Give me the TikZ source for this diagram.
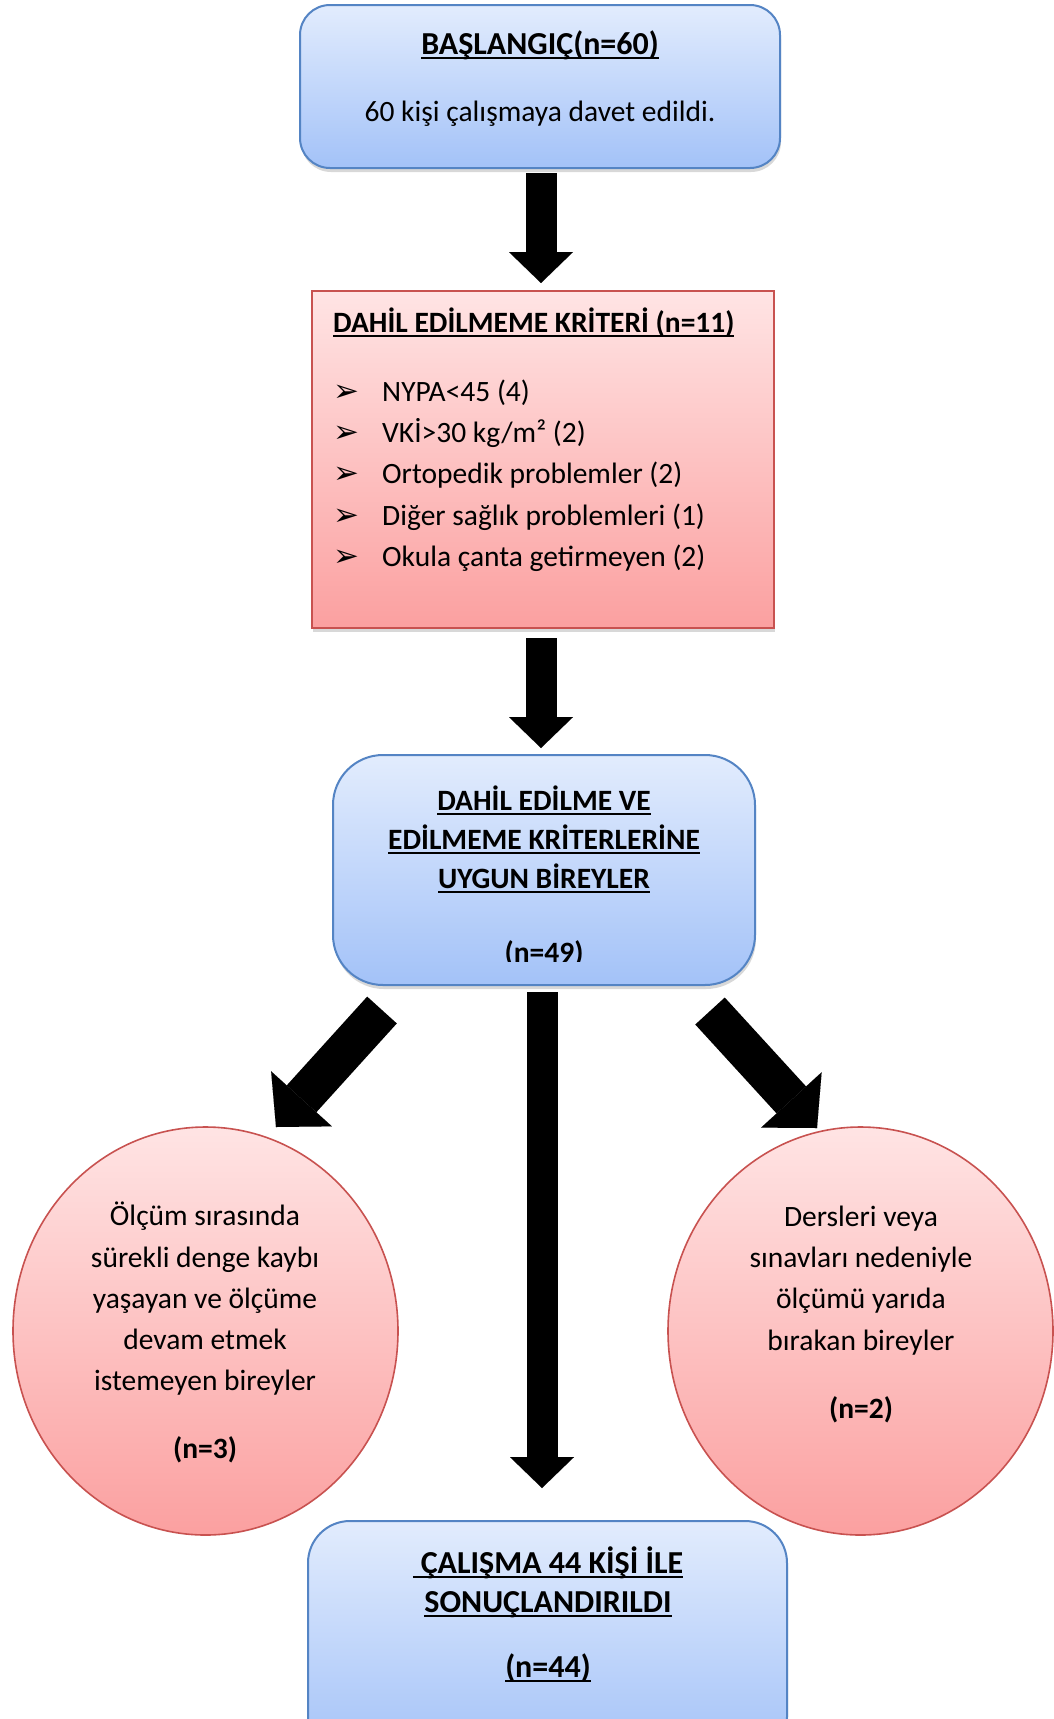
\documentclass[tikz,border=0pt]{standalone}
\usepackage{fontspec}
\setmainfont{Carlito}
\newfontfamily\symfont{DejaVu Sans}
\usetikzlibrary{arrows.meta,shapes.geometric,shadows}
\definecolor{bluetop}{RGB}{226,236,253}
\definecolor{bluebot}{RGB}{163,194,248}
\definecolor{blueline}{RGB}{84,132,196}
\definecolor{redtop}{RGB}{255,228,228}
\definecolor{redbot}{RGB}{251,160,160}
\definecolor{redline}{RGB}{200,82,80}
\newsavebox\ulbox
\newcommand\ulx[1]{\sbox\ulbox{#1}\rlap{\rule[-5pt]{\wd\ulbox}{2.4pt}}\usebox\ulbox}
\tikzset{
  txt/.style={font=\fontsize{29.5pt}{35pt}\selectfont, inner sep=0pt, anchor=base},
  btxt/.style={txt, font=\fontsize{29.5pt}{35pt}\selectfont\bfseries},
  bbtxt/.style={txt, font=\fontsize{32pt}{38pt}\selectfont\bfseries},
  bluebox/.style={draw=blueline, line width=2pt, top color=bluetop, bottom color=bluebot,
    inner sep=0pt, outer sep=0pt,
    drop shadow={opacity=0.3, shadow xshift=1pt, shadow yshift=-4pt}},
  redbox/.style={draw=redline, line width=1.6pt, top color=redtop, bottom color=redbot,
    inner sep=0pt, outer sep=0pt,
    drop shadow={opacity=0.3, shadow xshift=1pt, shadow yshift=-4pt}},
  redcirc/.style={ellipse, draw=redline, line width=1.6pt, top color=redtop, bottom color=redbot,
    inner sep=0pt, outer sep=0pt},
  varrow/.style={line width=31pt, draw=black,
    -{Triangle[width=64pt, length=31pt, line width=0.01pt]}},
  darrow/.style={line width=40pt, draw=black,
    -{Triangle[width=82pt, length=38pt, line width=0.01pt]}},
  bul/.style={font=\symfont\fontsize{31pt}{35pt}\selectfont, inner sep=0pt, anchor=base west},
}
\begin{document}
\begin{tikzpicture}[x=1pt, y=-1pt]
\useasboundingbox (0,0) rectangle (1053,1719);
\fill[white] (0,0) rectangle (1053,1719);

% boxes
\node[bluebox, rounded corners=30pt, minimum width=480pt, minimum height=163pt] (top) at (540,86.5) {};
\node[redbox, minimum width=462pt, minimum height=337pt] (red) at (543,459.5) {};
\node[bluebox, rounded corners=50pt, minimum width=422pt, minimum height=230pt] (mid) at (544,870) {};
\node[redcirc, minimum width=385pt, minimum height=408pt] (lc) at (205.5,1331) {};
\node[redcirc, minimum width=385pt, minimum height=408pt] (rc) at (860.5,1331) {};
\node[bluebox, rounded corners=42pt, minimum width=479pt, minimum height=238pt] (bot) at (547.5,1640) {};

% top texts
\node[bbtxt] (t1) at (540,54) {\ulx{BAŞLANGIÇ(n=60)}};
\node[txt] (t2) at (540,121) {60 kişi çalışmaya davet edildi.};

% red box texts
\node[btxt, anchor=base west] (r0) at (333,332) {\ulx{DAHİL EDİLMEME KRİTERİ (n=11)}};
\foreach \yy/\tt [count=\i] in {401/{NYPA<45 (4)}, 442/{VKİ>30 kg/m² (2)}, 483/{Ortopedik problemler (2)}, 525/{Diğer sağlık problemleri (1)}, 566/{Okula çanta getirmeyen (2)}}{
  \node[bul] (b\i) at (333,\yy) {➢};
  \node[txt, anchor=base west] (r\i) at (382,\yy) {\tt};
}

% middle texts
\node[btxt] (m1) at (544,810) {\ulx{DAHİL EDİLME VE}};
\node[btxt] (m2) at (544,849) {\ulx{EDİLMEME KRİTERLERİNE}};
\node[btxt] (m3) at (544,888) {\ulx{UYGUN BİREYLER}};
\begin{scope}
\clip (333,755) rectangle (755,961);
\node[btxt] (m4) at (544,962) {\ulx{(n=49)}};
\end{scope}

% left circle texts
\node[txt] (l1) at (205,1225) {Ölçüm sırasında};
\node[txt] (l2) at (205,1267) {sürekli denge kaybı};
\node[txt] (l3) at (205,1308) {yaşayan ve ölçüme};
\node[txt] (l4) at (205,1349) {devam etmek};
\node[txt] (l5) at (205,1390) {istemeyen bireyler};
\node[btxt] (l6) at (205,1458) {(n=3)};

% right circle texts
\node[txt] (c1) at (861,1226) {Dersleri veya};
\node[txt] (c2) at (861,1267) {sınavları nedeniyle};
\node[txt] (c3) at (861,1308) {ölçümü yarıda};
\node[txt] (c4) at (861,1350) {bırakan bireyler};
\node[btxt] (c5) at (861,1418) {(n=2)};

% bottom texts
\node[bbtxt] (e1) at (548,1573) {\ulx{\hspace{8pt}ÇALIŞMA 44 KİŞİ İLE}};
\node[bbtxt] (e2) at (548,1612) {\ulx{SONUÇLANDIRILDI}};
\node[bbtxt] (e3) at (548,1677) {\ulx{(n=44)}};

% arrows
\draw[varrow, shorten <=5pt, shorten >=8pt] (top.south) ++(1,0) coordinate (a1s) -- (a1s |- red.north);
\draw[varrow, shorten <=10pt, shorten >=7pt] (red.south) ++(-2,0) coordinate (a2s) -- (a2s |- mid.north);
\draw[varrow, shorten <=7pt, shorten >=33pt] (mid.south) ++(-2,0) coordinate (a3s) -- (a3s |- bot.north);
\coordinate (la1) at (382,1010);
\coordinate (la2) at (276,1127);
\coordinate (ra1) at (710,1011);
\coordinate (ra2) at (817,1128);
\draw[darrow] (la1) -- (la2);
\draw[darrow] (ra1) -- (ra2);
\end{tikzpicture}
\end{document}
